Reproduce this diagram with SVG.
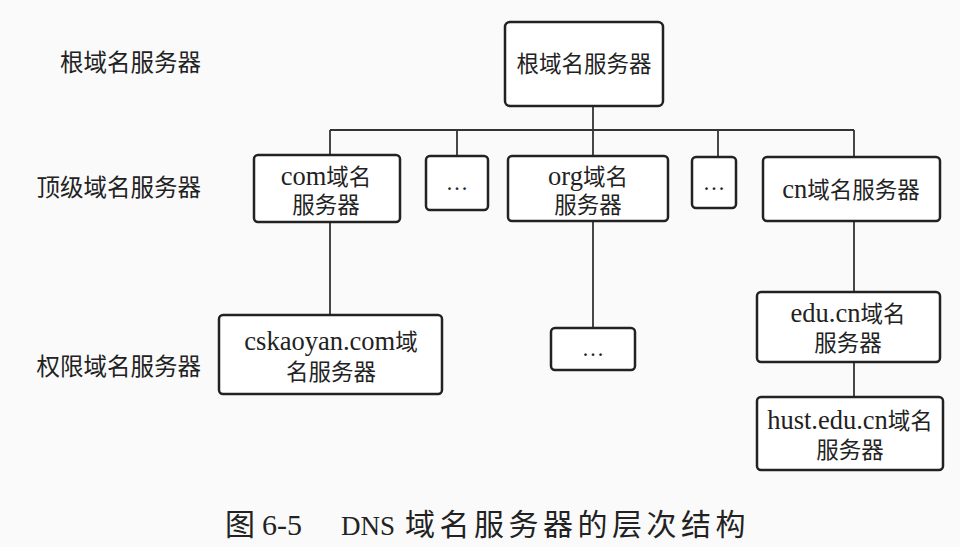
<svg xmlns="http://www.w3.org/2000/svg" width="960" height="547" viewBox="0 0 960 547">
<style>
.box{fill:#fff;stroke:#222;stroke-width:2.5}
.ln{stroke:#333;stroke-width:1.8;fill:none}
text{font-family:"Liberation Serif","Noto Sans CJK SC",serif;fill:#222;font-size:22.5px;text-anchor:middle}
.lt{font-size:26.5px}
.lbl{text-anchor:end;font-size:23.5px}
.cap{text-anchor:start;font-size:30px}
</style>
<rect width="960" height="547" fill="#fafafa"/>
<g id="connectors">
<path class="ln" d="M593 106V156M330 130H854M330 130V156M457 130V156M718 130V157M854 130V157"/>
<path class="ln" d="M330 222V315M593 221V328M854 221V292M854 362V397"/>
</g>
<g id="level-labels">
<text class="lbl" x="201" y="71">根域名服务器</text>
<text class="lbl" x="201" y="196">顶级域名服务器</text>
<text class="lbl" x="201" y="375">权限域名服务器</text>
</g>
<g id="root"><rect class="box" x="505" y="22" width="158" height="84" rx="5"/><text x="584" y="72">根域名服务器</text></g>
<g id="com"><rect class="box" x="254" y="155" width="146" height="67" rx="4"/><text x="326" y="185"><tspan class="lt">com</tspan>域名</text><text x="326" y="213">服务器</text></g>
<g id="dots1"><rect class="box" x="426" y="156" width="62" height="54" rx="4"/><text x="457" y="190">…</text></g>
<g id="org"><rect class="box" x="508" y="156" width="160" height="65" rx="4"/><text x="588" y="185"><tspan class="lt">org</tspan>域名</text><text x="588" y="213">服务器</text></g>
<g id="dots2"><rect class="box" x="692" y="157" width="44" height="51" rx="4"/><text x="714" y="190">…</text></g>
<g id="cn"><rect class="box" x="763" y="157" width="177" height="64" rx="4"/><text x="851" y="198"><tspan class="lt">cn</tspan>域名服务器</text></g>
<g id="cskaoyan"><rect class="box" x="219" y="315" width="223" height="79" rx="4"/><text x="331" y="350"><tspan class="lt">cskaoyan.com</tspan>域</text><text x="331" y="380">名服务器</text></g>
<g id="dots3"><rect class="box" x="551" y="328" width="84" height="42" rx="4"/><text x="593" y="356">…</text></g>
<g id="educn"><rect class="box" x="757" y="292" width="183" height="70" rx="4"/><text x="848" y="322"><tspan class="lt">edu.cn</tspan>域名</text><text x="848" y="351">服务器</text></g>
<g id="hust"><rect class="box" x="757" y="397" width="186" height="73" rx="4"/><text x="850" y="429"><tspan class="lt">hust.edu.cn</tspan>域名</text><text x="850" y="458">服务器</text></g>
<g id="caption">
<text class="cap" x="225" y="535">图</text>
<text class="cap" x="262" y="535">6-5</text>
<text class="cap" x="341" y="535" style="font-size:27px">DNS</text>
<text class="cap" x="405" y="535" letter-spacing="4.5">域名服务器的层次结构</text>
</g>
</svg>
